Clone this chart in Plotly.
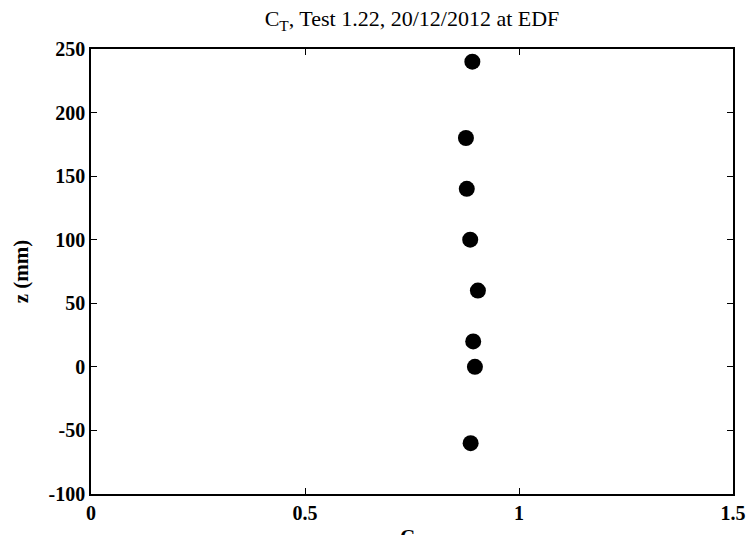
import plotly.graph_objects as go

# Data
ct_values = [0.891, 0.876, 0.878, 0.886, 0.904, 0.893, 0.897, 0.887]
z_mm = [240, 180, 140, 100, 60, 20, 0, -60]

x_ticks = [0, 0.5, 1, 1.5]
x_ticklabels = ["0", "0.5", "1", "1.5"]
y_ticks = [-100, -50, 0, 50, 100, 150, 200, 250]
y_ticklabels = ["-100", "-50", "0", "50", "100", "150", "200", "250"]

FONT = "Liberation Serif"

fig = go.Figure()
fig.add_trace(go.Scatter(
    x=ct_values, y=z_mm, mode="markers",
    marker=dict(size=16, color="black", line=dict(width=0)),
    showlegend=False,
))

axis_common = dict(
    showline=True, linecolor="black", linewidth=1.5, mirror="ticks",
    ticks="inside", ticklen=6, tickcolor="black", tickwidth=1,
    showgrid=False, zeroline=False,
    tickfont=dict(family=FONT, size=20, color="black", weight="bold"),
)

fig.update_layout(
    width=751, height=535,
    margin=dict(l=91, r=18, t=49, b=41, autoexpand=False),
    paper_bgcolor="white", plot_bgcolor="white",
    title=dict(
        text="C<sub>T</sub>, Test 1.22, 20/12/2012 at EDF",
        font=dict(family=FONT, size=22, color="black"),
        x=(91 + 733) / 2 / 751, xanchor="center",
        y=1 - 26 / 535, yanchor="bottom",
    ),
    xaxis=dict(range=[0, 1.5], tickvals=x_ticks, ticktext=x_ticklabels, **axis_common),
    yaxis=dict(range=[-100, 250], tickvals=y_ticks, ticktext=y_ticklabels,
               title=dict(text="z (mm)", font=dict(family=FONT, size=21, color="black", weight="bold"),
                          standoff=14),
               **axis_common),
)

fig.add_annotation(
    text="C<sub>T</sub>", xref="paper", yref="paper", x=0.5, y=0,
    xanchor="center", yanchor="top", yshift=-29, showarrow=False,
    font=dict(family=FONT, size=21, color="black", weight="bold"),
)

fig.write_html("out.html", config={"displayModeBar": False},
               post_script="document.body.style.margin='0';")
